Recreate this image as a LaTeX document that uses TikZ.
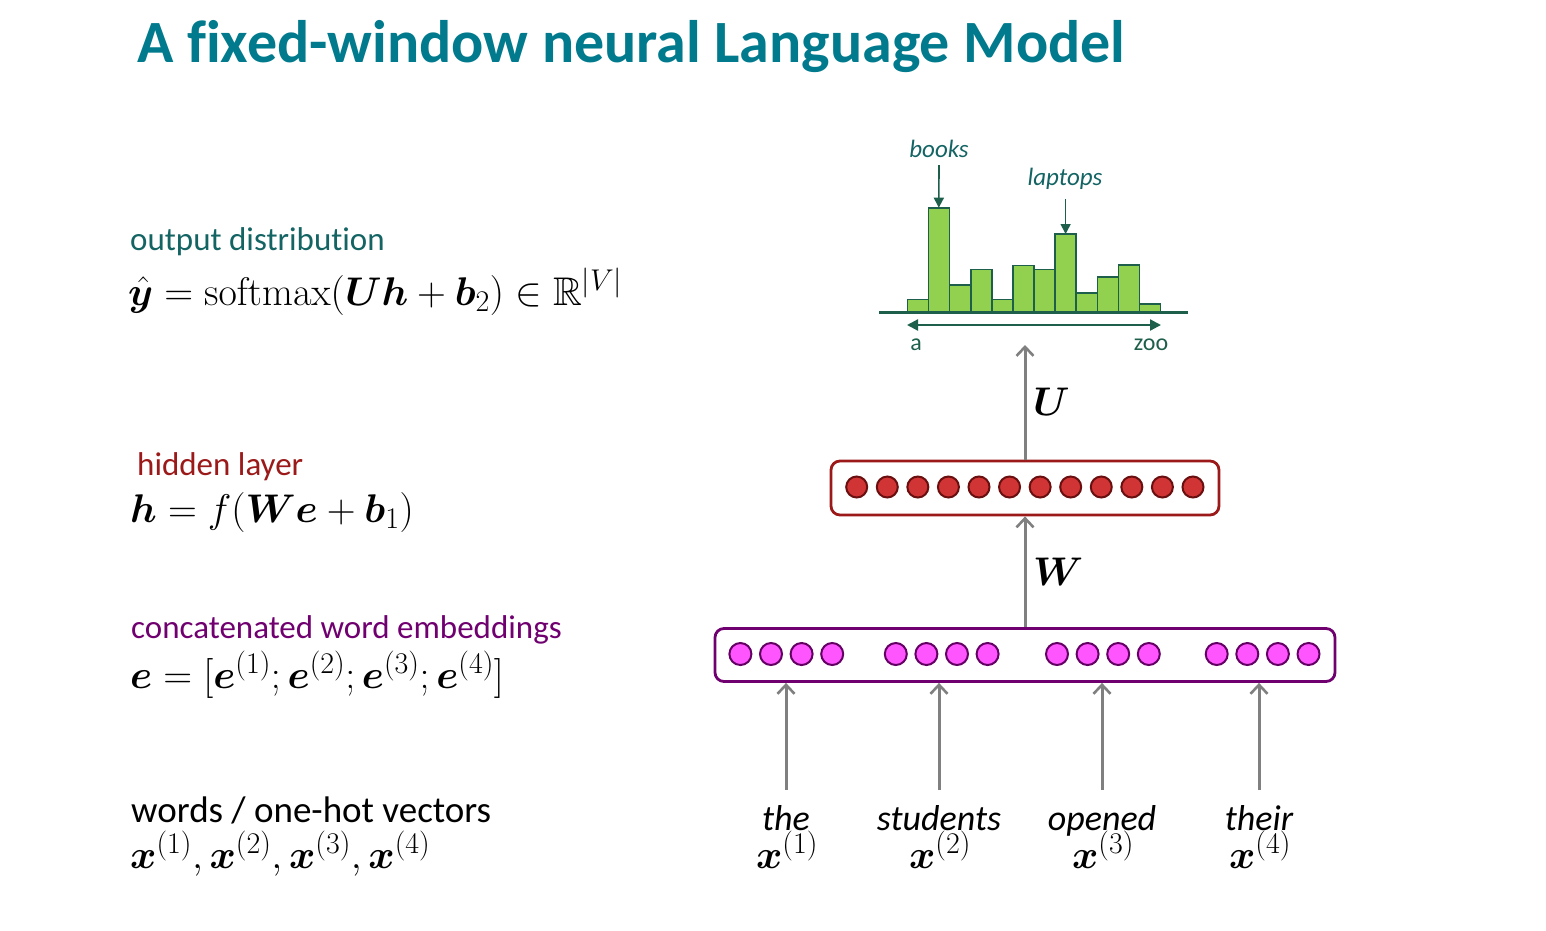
\RequirePackage{fix-cm}
\documentclass[tikz,border=0pt]{standalone}
\usepackage{amsmath,amssymb,bm}
\usepackage[no-math]{fontspec}
\setmainfont{Carlito}[Ligatures=NoCommon]
\usetikzlibrary{arrows.meta}
\DeclareMathSizes{40}{40}{30}{22}
\definecolor{titleteal}{RGB}{0,122,140}
\definecolor{outteal}{RGB}{20,100,100}
\definecolor{histgreen}{RGB}{146,208,80}
\definecolor{histedge}{RGB}{30,95,75}
\definecolor{hidred}{RGB}{155,25,25}
\definecolor{hidfill}{RGB}{208,52,52}
\definecolor{hidedge}{RGB}{105,15,15}
\definecolor{embpurple}{RGB}{112,0,112}
\definecolor{embfill}{RGB}{255,85,255}
\definecolor{embedge}{RGB}{100,0,100}
\definecolor{arrgray}{RGB}{128,128,128}
\newcommand\titlefnt{\fontsize{60}{72}\selectfont\bfseries}
\newcommand\lblfnt{\fontsize{33}{40}\selectfont}
\newcommand\wordsfnt{\fontsize{37}{44}\selectfont}
\newcommand\wfnt{\fontsize{36}{43}\selectfont\itshape}
\newcommand\smallfnt{\fontsize{24}{29}\selectfont}
\newcommand\annfnt{\fontsize{25}{30}\selectfont\itshape}
\newcommand\mfnt{\fontsize{40}{48}\selectfont}
\begin{document}
\begin{tikzpicture}[x=1pt,y=-1pt,
  txt/.style={inner sep=0pt, anchor=base west},
  ctxt/.style={inner sep=0pt, anchor=base},
  garrow/.style={draw=arrgray, line width=3pt, -{Straight Barb[length=9pt,width=17pt,line width=2.6pt]}},
  bar/.style={fill=histgreen, draw=histedge, line width=1.6pt},
  hidneuron/.style={circle, minimum size=21pt, inner sep=0pt, fill=hidfill, draw=hidedge, line width=2pt},
  embneuron/.style={circle, minimum size=22pt, inner sep=0pt, fill=embfill, draw=embedge, line width=2pt},
  layerbox/.style={rounded corners=9pt, line width=2.8pt, fill=white, inner sep=0pt},
  annarrow/.style={draw=histedge, line width=1.6pt, -{Triangle[length=10pt,width=10pt]}}
]
\useasboundingbox (0,0) rectangle (1546,930);

% title
\node[txt, text=titleteal] (title) at (137,62) {\titlefnt A fixed-window neural Language Model};

% left labels
\node[txt, text=outteal] (outlbl) at (130,250) {\lblfnt output distribution};
\node[txt] (outeq) at (128,305) {\mfnt $\hat{\bm{y}} = \mathrm{softmax}(\bm{U}\bm{h}+\bm{b}_2) \in \mathbb{R}^{|V|}$};
\node[txt, text=hidred] (hidlbl) at (137,475) {\lblfnt hidden layer};
\node[txt] (hideq) at (130,522) {\mfnt $\bm{h} = f(\bm{W}\bm{e}+\bm{b}_1)$};
\node[txt, text=embpurple] (emblbl) at (131,638) {\lblfnt concatenated word embeddings};
\node[txt] (embeq) at (130,688) {\mfnt $\bm{e} = [\bm{e}^{(1)};\bm{e}^{(2)};\bm{e}^{(3)};\bm{e}^{(4)}]$};
\node[txt] (wordlbl) at (131,822) {\wordsfnt words / one-hot vectors};
\node[txt] (wordeq) at (130,868) {\mfnt $\bm{x}^{(1)},\bm{x}^{(2)},\bm{x}^{(3)},\bm{x}^{(4)}$};

% histogram
\foreach \i/\l/\t in {1/907.3/299.3, 2/928.3/207.7, 3/949.3/285, 4/970.7/269.3, 5/992/299.3, 6/1012.7/265.3, 7/1034/269.3, 8/1055/234, 9/1076.3/292.7, 10/1097.3/276.7, 11/1118.3/264.7, 12/1139.3/303.7}{
  \pgfmathsetmacro\r{\l+21.06}
  \draw[bar] (\l,312) rectangle (\r,\t);
}
\coordinate (axl) at (879,312);
\coordinate (axr) at (1188,312);
\draw[draw=histedge, line width=3pt] (axl) -- (axr);
\coordinate (dal) at (907,325);
\coordinate (dar) at (1161,325);
\draw[draw=histedge, line width=2.2pt, {Triangle[length=11pt,width=11pt]}-{Triangle[length=11pt,width=11pt]}] (dal) -- (dar);
\node[ctxt, text=histedge] (alab) at (916,350) {\smallfnt a};
\node[ctxt, text=histedge] (zoolab) at (1151,350) {\smallfnt zoo};
\node[ctxt, text=outteal] (books) at (939,157) {\annfnt books};
\node[ctxt, text=outteal] (laptops) at (1065,185) {\annfnt laptops};
\coordinate (bookstop) at (938.8,207.7);
\coordinate (laptopstop) at (1065.6,234);
\draw[annarrow] (939,165) -- (bookstop);
\draw[annarrow] (1065.6,199) -- (laptopstop);

% hidden layer
\node[layerbox, draw=hidred, minimum width=388pt, minimum height=54pt] (hid) at (1025,488) {};
\foreach \i in {1,...,12}{
  \node[hidneuron] (h\i) at ({856.7+(\i-1)*30.57},487) {};
}

% embedding layer
\node[layerbox, draw=embpurple, minimum width=620pt, minimum height=53pt] (emb) at (1025,655) {};
\foreach \g/\s in {1/740.4, 2/895.8, 3/1057, 4/1216.7}{
  \foreach \k in {0,...,3}{
    \node[embneuron] (e\g\k) at ({\s+\k*30.6},654) {};
  }
}

% arrows between layers
\coordinate (outtip) at (1025,345);
\draw[garrow] (hid.north) -- (outtip);
\node[txt] (ulab) at (1033,415) {\mfnt $\bm{U}$};
\draw[garrow] (emb.north) -- (hid.south);
\node[txt] (wlab) at (1033,585) {\mfnt $\bm{W}$};

% words
\foreach \n/\x/\w/\s in {1/786/the/1, 2/939/students/2, 3/1102/opened/3, 4/1259/their/4}{
  \node[ctxt] (w\n) at (\x,830) {\wfnt \w};
  \node[ctxt] (x\n) at (\x+1,868) {\mfnt $\bm{x}^{(\s)}$};
  \coordinate (a\n) at (\x,790);
  \draw[garrow] (a\n) -- (a\n |- emb.south);
}
\end{tikzpicture}
\end{document}
